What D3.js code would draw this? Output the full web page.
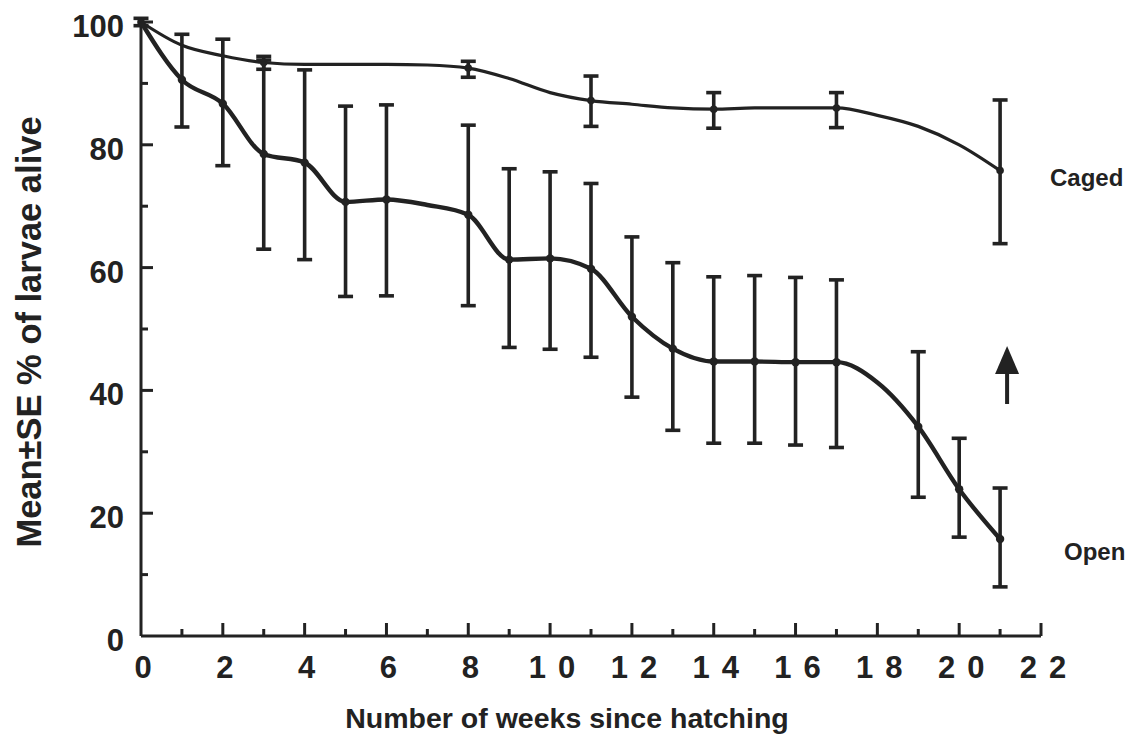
<!DOCTYPE html>
<html>
<head>
<meta charset="utf-8">
<script src="https://cdn.jsdelivr.net/npm/d3@7"></script>
<style>
  html, body { margin: 0; padding: 0; background: #fff; }
  svg text { font-family: "Liberation Sans", Arial, Helvetica, sans-serif; font-weight: bold; fill: #222; }
</style>
</head>
<body>
<svg id="chart" width="1138" height="738"></svg>
<script>
// Weeks since hatching
const weeks = [0, 1, 2, 3, 4, 5, 6, 7, 8, 9, 10, 11, 12, 13, 14, 15, 16, 17, 18, 19, 20, 21];

// Caged larvae: mean % alive, and mean ± SE where an error bar was plotted
const cagedMean  = [100, 96.2, 94.5, 93.4, 93.1, 93.1, 93.1, 93.0, 92.5, 90.8, 88.5, 87.2, 86.6, 86.0, 85.8, 86.0, 86.0, 86.0, 84.8, 83.0, 80.0, 75.8];
const cagedUpper = [100.6, null, null, 94.4, null, null, null, null, 93.6, null, null, 91.2, null, null, 88.5, null, null, 88.5, null, null, null, 87.3];
const cagedLower = [99.4, null, null, 92.3, null, null, null, null, 91.0, null, null, 83.0, null, null, 82.7, null, null, 82.8, null, null, null, 63.9];

// Open (uncaged) larvae
const openMean  = [100, 90.6, 86.7, 78.5, 77.1, 70.7, 71.1, 70.2, 68.6, 61.3, 61.5, 59.8, 52.0, 46.8, 44.7, 44.7, 44.6, 44.6, 41.3, 34.1, 23.9, 15.8];
const openUpper = [null, 98.0, 97.2, 93.8, 92.2, 86.3, 86.5, null, 83.2, 76.1, 75.6, 73.7, 65.0, 60.8, 58.5, 58.7, 58.4, 58.0, null, 46.3, 32.2, 24.1];
const openLower = [null, 82.9, 76.6, 63.0, 61.3, 55.3, 55.4, null, 53.8, 47.0, 46.7, 45.4, 38.9, 33.5, 31.4, 31.4, 31.1, 30.7, null, 22.6, 16.1, 8.0];

// Axis ticks
const xMajorTicks = [0, 2, 4, 6, 8, 10, 12, 14, 16, 18, 20, 22];
const xMinorTicks = [1, 3, 5, 7, 9, 11, 13, 15, 17, 19, 21];
const yMajorTicks = [0, 20, 40, 60, 80, 100];
const yMinorTicks = [10, 30, 50, 70, 90];

const ink = "#222";
const svg = d3.select("#chart");

const x = d3.scaleLinear().domain([0, 22]).range([141, 1041]);
const y = d3.scaleLinear().domain([0, 100]).range([636, 22]);

// Axes (ticks point inward)
const gx = svg.append("g").attr("transform", `translate(0,${y(0)})`);
gx.append("line").attr("x1", x(0)).attr("x2", x(22)).attr("stroke", ink).attr("stroke-width", 3);
gx.selectAll(".maj").data(xMajorTicks.filter(d => d > 0)).join("line")
  .attr("x1", d => x(d)).attr("x2", d => x(d)).attr("y1", 0).attr("y2", -13)
  .attr("stroke", ink).attr("stroke-width", 3);
gx.selectAll(".min").data(xMinorTicks).join("line")
  .attr("x1", d => x(d)).attr("x2", d => x(d)).attr("y1", 0).attr("y2", -7)
  .attr("stroke", ink).attr("stroke-width", 3);
gx.selectAll("text").data(xMajorTicks).join("text")
  .attr("x", d => x(d) + 2 + (d >= 10 ? 6 : 0))
  .attr("y", 42)
  .attr("text-anchor", "middle")
  .attr("font-size", 31)
  .attr("letter-spacing", d => d >= 10 ? 12 : 0)
  .text(d => d);

const gy = svg.append("g").attr("transform", `translate(${x(0)},0)`);
gy.append("line").attr("y1", y(0)).attr("y2", y(100)).attr("stroke", ink).attr("stroke-width", 3);
gy.selectAll(".maj").data(yMajorTicks.filter(d => d > 0)).join("line")
  .attr("y1", d => y(d)).attr("y2", d => y(d)).attr("x1", 0).attr("x2", 12)
  .attr("stroke", ink).attr("stroke-width", 3);
gy.selectAll(".min").data(yMinorTicks).join("line")
  .attr("y1", d => y(d)).attr("y2", d => y(d)).attr("x1", 0).attr("x2", 7)
  .attr("stroke", ink).attr("stroke-width", 3);
gy.selectAll("text").data(yMajorTicks).join("text")
  .attr("x", -17)
  .attr("y", d => y(d) + 15)
  .attr("text-anchor", "end")
  .attr("font-size", 31)
  .text(d => d);

// Axis titles
svg.append("text")
  .attr("x", 567).attr("y", 728)
  .attr("text-anchor", "middle").attr("font-size", 28.5)
  .text("Number of weeks since hatching");
svg.append("text")
  .attr("transform", "translate(41,332) rotate(-90)")
  .attr("text-anchor", "middle").attr("font-size", 34.5)
  .text("Mean±SE % of larvae alive");

// Series
function drawSeries(mean, upper, lower, lineWidth, dotR) {
  const pts = weeks.map((w, i) => ({ w, m: mean[i], u: upper[i], l: lower[i] }));
  const line = d3.line().x(d => x(d.w)).y(d => y(d.m)).curve(d3.curveMonotoneX);
  svg.append("path").datum(pts).attr("d", line)
    .attr("fill", "none").attr("stroke", ink).attr("stroke-width", lineWidth)
    .attr("stroke-linejoin", "round");
  const bars = pts.filter(d => d.u !== null);
  const g = svg.append("g").attr("stroke", ink).attr("stroke-width", 3.6);
  g.selectAll(".v").data(bars).join("line")
    .attr("x1", d => x(d.w)).attr("x2", d => x(d.w))
    .attr("y1", d => y(d.u)).attr("y2", d => y(d.l));
  g.selectAll(".t").data(bars).join("line")
    .attr("x1", d => x(d.w) - 7.5).attr("x2", d => x(d.w) + 7.5)
    .attr("y1", d => y(d.u)).attr("y2", d => y(d.u));
  g.selectAll(".b").data(bars).join("line")
    .attr("x1", d => x(d.w) - 7.5).attr("x2", d => x(d.w) + 7.5)
    .attr("y1", d => y(d.l)).attr("y2", d => y(d.l));
  svg.append("g").selectAll("circle").data(bars).join("circle")
    .attr("cx", d => x(d.w)).attr("cy", d => y(d.m)).attr("r", dotR)
    .attr("fill", ink);
}
drawSeries(cagedMean, cagedUpper, cagedLower, 3.2, 3.8);
drawSeries(openMean, openUpper, openLower, 4.4, 4.2);

// Series labels
svg.append("text").attr("x", 1050).attr("y", 186).attr("font-size", 24).text("Caged");
svg.append("text").attr("x", 1064).attr("y", 560).attr("font-size", 24).text("Open");

// Arrow between the two final means
const arrowX = x(21) + 7;
svg.append("line").attr("x1", arrowX).attr("x2", arrowX).attr("y1", 404).attr("y2", 368)
  .attr("stroke", ink).attr("stroke-width", 4);
svg.append("path")
  .attr("d", `M${arrowX},346 L${arrowX - 12},374 L${arrowX + 12},374 Z`)
  .attr("fill", ink);
</script>
</body>
</html>
